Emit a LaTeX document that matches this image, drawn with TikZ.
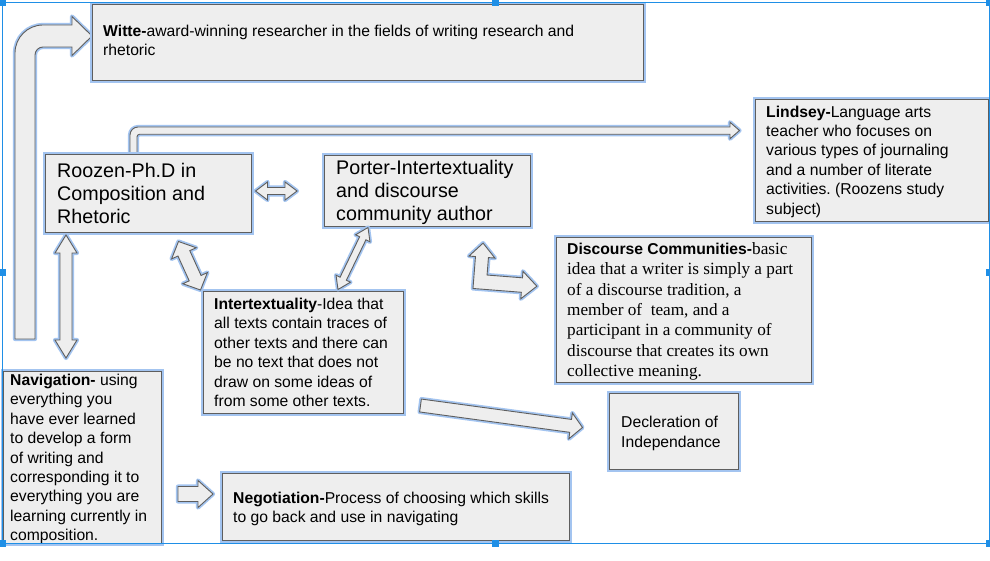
\documentclass[tikz,border=0pt]{standalone}
\usepackage{fontspec}
\setmainfont{Liberation Sans}
\newfontfamily\serifx{Liberation Serif}
\newfontfamily\sansx{Liberation Sans}
\frenchspacing
\definecolor{boxfill}{HTML}{EEEEEE}
\definecolor{boxline}{HTML}{5E5E5E}
\definecolor{glow}{HTML}{A3C4F0}
\definecolor{selblue}{HTML}{1F8FE6}
\tikzset{
 box/.style={fill=boxfill, draw=boxline, line width=0.9pt, inner sep=0pt, anchor=north west,
   preaction={draw=glow, line width=4.2pt}},
 barrow/.style={fill=boxfill, draw=boxline, line width=0.9pt, line join=miter,
   preaction={draw=glow, line width=4.2pt, line join=round}},
 body/.style={anchor=north west, inner sep=0pt, align=left, font=\fontsize{15.7}{19.4}\selectfont},
 big/.style={anchor=north west, inner sep=0pt, align=left, font=\fontsize{19.7}{23}\selectfont},
 sel/.style={draw=selblue, line width=1pt},
 handle/.style={fill=selblue, draw=none},
}
\newdimen\BAxa \newdimen\BAya \newdimen\BAxb \newdimen\BAyb
\newcommand\blockarrowpts[2]{%
  \pgfextractx{\BAxa}{\pgfpointanchor{#1}{center}}%
  \pgfextracty{\BAya}{\pgfpointanchor{#1}{center}}%
  \pgfextractx{\BAxb}{\pgfpointanchor{#2}{center}}%
  \pgfextracty{\BAyb}{\pgfpointanchor{#2}{center}}%
  \pgfmathsetmacro\BAlen{veclen(\BAxb-\BAxa,\BAyb-\BAya)}%
  \pgfmathsetmacro\BAang{atan2(\BAyb-\BAya,\BAxb-\BAxa)}}
% from, to, shaft half width, head half width, head length
\newcommand\dblarrow[5]{%
  \blockarrowpts{#1}{#2}%
  \begin{scope}[shift={(\BAxa,\BAya)},rotate=\BAang,x=1pt,y=1pt]
    \draw[barrow] (0,0) -- (#5,#4) -- (#5,#3) -- ({\BAlen-#5},#3) -- ({\BAlen-#5},#4) -- (\BAlen,0)
      -- ({\BAlen-#5},-#4) -- ({\BAlen-#5},-#3) -- (#5,-#3) -- (#5,-#4) -- cycle;
  \end{scope}}
\newcommand\sglarrow[5]{%
  \blockarrowpts{#1}{#2}%
  \begin{scope}[shift={(\BAxa,\BAya)},rotate=\BAang,x=1pt,y=1pt]
    \draw[barrow] (0,#3) -- ({\BAlen-#5},#3) -- ({\BAlen-#5},#4) -- (\BAlen,0)
      -- ({\BAlen-#5},-#4) -- ({\BAlen-#5},-#3) -- (0,-#3) -- cycle;
  \end{scope}}
\begin{document}
\begin{tikzpicture}[x=1pt,y=-1pt]
\useasboundingbox (0,0) rectangle (990,561);
\fill[white] (0,0) rectangle (990,561);
\clip (0,0) rectangle (990,561);

% bent arrow up to Witte
\draw[barrow] (15,339) -- (15,53) arc[start angle=180,end angle=90,radius=28pt] -- (72,25) -- (72,16.5)
  -- (92,36) -- (72,55.5) -- (72,47) -- (43,47) arc[start angle=90,end angle=180,radius=8pt] -- (35,339) -- cycle;
% thin bent arrow Roozen -> Lindsey
\draw[barrow] (130,153) -- (130,135) arc[start angle=180,end angle=90,radius=8pt] -- (730,127) -- (730,122.3)
  -- (739.5,130.5) -- (730,138.7) -- (730,134.3) -- (139.5,134.3) arc[start angle=90,end angle=180,radius=2.5pt]
  -- (137,153) -- cycle;

% boxes
\node[box, minimum width=551pt, minimum height=76pt] (witte) at (92,4) {};
\node[box, minimum width=206pt, minimum height=78pt] (roozen) at (45,154) {};
\node[box, minimum width=206pt, minimum height=71pt] (porter) at (324,155) {};
\node[box, minimum width=233pt, minimum height=122pt] (lindsey) at (755,99) {};
\node[box, minimum width=255pt, minimum height=145pt] (disc) at (556,237) {};
\node[box, minimum width=129pt, minimum height=76pt] (decl) at (609,393) {};
\node[box, minimum width=200pt, minimum height=122pt] (inter) at (203,291) {};
\node[box, minimum width=158pt, minimum height=172pt] (navi) at (3,371) {};
\node[box, minimum width=347pt, minimum height=67pt] (nego) at (222,473) {};

% texts
\node[body] (wittet) at (103,25) {\textbf{Witte-}award-winning researcher in the fields of writing research and\\rhetoric};
\node[big] (roozent) at (57,162.8) {Roozen-Ph.D in\\Composition and\\Rhetoric};
\node[big] (portert) at (336,160) {Porter-Intertextuality\\and discourse\\community author};
\node[body] (lindseyt) at (766,105.5) {\textbf{Lindsey-}Language arts\\teacher who focuses on\\various types of journaling\\and a number of literate\\activities. (Roozens study\\subject)};
\node[anchor=north west, inner sep=0pt, align=left, font=\serifx\fontsize{17.2}{20.3}\selectfont] (disct) at (567,242.5)
  {{\sansx\bfseries\fontsize{15.7}{20.3}\selectfont Discourse Communities-}basic\\idea that a writer is simply a part\\of a discourse tradition, a\\member of\ \ team, and a\\participant in a community of\\discourse that creates its own\\collective meaning.};
\node[body] (intert) at (214,298) {\textbf{Intertextuality}-Idea that\\all texts contain traces of\\other texts and there can\\be no text that does not\\draw on some ideas of\\from some other texts.};
\node[body] (navit) at (10,374) {\textbf{Navigation-} using\\everything you\\have ever learned\\to develop a form\\of writing and\\corresponding it to\\everything you are\\learning currently in\\composition.};
\node[body] (negot) at (233,491.5) {\textbf{Negotiation-}Process of choosing which skills\\to go back and use in navigating};
\node[body] (declt) at (621,416.3) {Decleration of\\Independance};

% straight block arrows
\coordinate (rpA) at (255.5,191); \coordinate (rpB) at (297,191);
\coordinate (rnA) at (66,235);   \coordinate (rnB) at (66,358);
\coordinate (riA) at (178.5,241.5); \coordinate (riB) at (200.5,290);
\coordinate (piA) at (368,227.5); \coordinate (piB) at (338,289.5);
\coordinate (idA) at (420.5,405.5); \coordinate (idB) at (582.5,427.5);
\coordinate (nnA) at (178,494); \coordinate (nnB) at (213,494);
\dblarrow{rpA}{rpB}{3.5}{9}{12}
\dblarrow{rnA}{rnB}{6}{11}{18}
\dblarrow{riA}{riB}{6.5}{13.5}{13}
\dblarrow{piA}{piB}{3.5}{8}{12}
\sglarrow{idA}{idB}{6.5}{13}{12}
\sglarrow{nnA}{nnB}{7.5}{13.5}{15}

% elbow arrow near Discourse Communities
\begin{scope}[rotate around={-4.5:(480,282)}]
\draw[barrow] (480,243) -- (493,257) -- (486.5,257) -- (486.5,274.5) -- (522,274.5) -- (522,268) -- (537,281.75)
  -- (522,295.5) -- (522,289) -- (473.5,289) -- (473.5,257) -- (467,257) -- cycle;
\end{scope}

% selection frame
\draw[sel] (2,3) rectangle (989,543);
\foreach \hx/\hy in {2/3, 495.5/3, 989/3, 2/273, 989/273, 2/543, 495.5/543, 989/543}
  \fill[handle] (\hx-3.5,\hy-3.5) rectangle (\hx+3.5,\hy+3.5);
\end{tikzpicture}
\end{document}
